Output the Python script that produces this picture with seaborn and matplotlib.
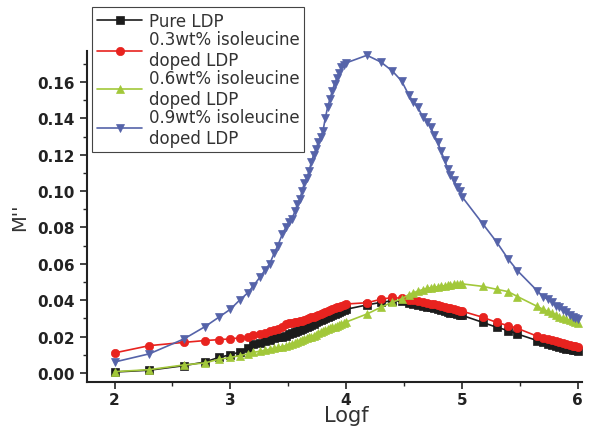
import matplotlib
matplotlib.use('Agg')
import matplotlib.pyplot as plt
import seaborn as sns
import pandas as pd
from matplotlib.ticker import MultipleLocator

# log frequency grid (shared by all samples)
logf = [2.00, 2.30, 2.60, 2.78, 2.90, 3.00, 3.08, 3.15, 3.20, 3.26,
        3.30, 3.34, 3.38, 3.41, 3.45, 3.48, 3.51, 3.53, 3.56, 3.58,
        3.60, 3.62, 3.64, 3.66, 3.68, 3.70, 3.72, 3.74, 3.76, 3.78,
        3.80, 3.82, 3.84, 3.86, 3.88, 3.90, 3.92, 3.94, 3.96, 3.98,
        4.00, 4.18, 4.30, 4.40, 4.48, 4.54, 4.58, 4.62, 4.66, 4.70,
        4.73, 4.76, 4.79, 4.82, 4.85, 4.88, 4.90, 4.93, 4.96, 4.98,
        5.00, 5.18, 5.30, 5.40, 5.48, 5.65, 5.70, 5.74, 5.78, 5.81,
        5.84, 5.87, 5.90, 5.93, 5.96, 5.98, 6.00]

pure = [0.0005, 0.0015, 0.0040, 0.0060, 0.0085, 0.0100, 0.0115, 0.0135, 0.0160, 0.0165,
        0.0175, 0.0180, 0.0190, 0.0195, 0.0200, 0.0205, 0.0215, 0.0220, 0.0225, 0.0230,
        0.0235, 0.0240, 0.0245, 0.0250, 0.0260, 0.0265, 0.0270, 0.0280, 0.0285, 0.0290,
        0.0295, 0.0300, 0.0310, 0.0315, 0.0320, 0.0325, 0.0330, 0.0335, 0.0340, 0.0345,
        0.0350, 0.0374, 0.0388, 0.0397, 0.0394, 0.0386, 0.0380, 0.0376, 0.0370, 0.0365,
        0.0360, 0.0356, 0.0350, 0.0345, 0.0340, 0.0335, 0.0332, 0.0328, 0.0323, 0.0320,
        0.0317, 0.0278, 0.0251, 0.0233, 0.0214, 0.0178, 0.0168, 0.0160, 0.0153, 0.0148,
        0.0143, 0.0138, 0.0134, 0.0130, 0.0126, 0.0124, 0.0122]

iso03 = [0.0110, 0.0150, 0.0168, 0.0178, 0.0183, 0.0187, 0.0193, 0.0200, 0.0208, 0.0215,
         0.0220, 0.0228, 0.0235, 0.0240, 0.0255, 0.0270, 0.0272, 0.0275, 0.0278, 0.0280,
         0.0283, 0.0288, 0.0292, 0.0297, 0.0300, 0.0305, 0.0310, 0.0315, 0.0320, 0.0325,
         0.0330, 0.0335, 0.0340, 0.0345, 0.0350, 0.0355, 0.0360, 0.0365, 0.0370, 0.0375,
         0.0379, 0.0386, 0.0405, 0.0415, 0.0410, 0.0402, 0.0400, 0.0395, 0.0390, 0.0385,
         0.0380, 0.0377, 0.0372, 0.0368, 0.0363, 0.0358, 0.0355, 0.0350, 0.0346, 0.0343,
         0.0340, 0.0306, 0.0278, 0.0260, 0.0245, 0.0202, 0.0192, 0.0186, 0.0180, 0.0175,
         0.0170, 0.0165, 0.0160, 0.0155, 0.0150, 0.0148, 0.0145]

iso06 = [0.0007, 0.0018, 0.0044, 0.0055, 0.0075, 0.0085, 0.0095, 0.0105, 0.0113, 0.0120,
         0.0125, 0.0130, 0.0135, 0.0140, 0.0145, 0.0150, 0.0155, 0.0160, 0.0165, 0.0170,
         0.0175, 0.0180, 0.0185, 0.0190, 0.0195, 0.0200, 0.0205, 0.0210, 0.0220, 0.0225,
         0.0230, 0.0235, 0.0240, 0.0245, 0.0250, 0.0255, 0.0260, 0.0265, 0.0270, 0.0275,
         0.0280, 0.0324, 0.0361, 0.0390, 0.0407, 0.0430, 0.0440, 0.0450, 0.0458, 0.0465,
         0.0468, 0.0470, 0.0474, 0.0477, 0.0480, 0.0483, 0.0485, 0.0487, 0.0489, 0.0490,
         0.0490, 0.0476, 0.0460, 0.0447, 0.0420, 0.0366, 0.0350, 0.0340, 0.0330, 0.0320,
         0.0310, 0.0300, 0.0295, 0.0290, 0.0283, 0.0280, 0.0275]

iso09 = [0.0060, 0.0105, 0.0187, 0.0254, 0.0306, 0.0350, 0.0400, 0.0440, 0.0480, 0.0530,
         0.0566, 0.0600, 0.0660, 0.0700, 0.0765, 0.0800, 0.0830, 0.0846, 0.0890, 0.0930,
         0.0956, 0.1000, 0.1045, 0.1070, 0.1110, 0.1160, 0.1200, 0.1230, 0.1270, 0.1300,
         0.1330, 0.1400, 0.1460, 0.1505, 0.1550, 0.1590, 0.1620, 0.1650, 0.1680, 0.1695,
         0.1705, 0.1747, 0.1710, 0.1660, 0.1605, 0.1530, 0.1490, 0.1460, 0.1410, 0.1380,
         0.1350, 0.1310, 0.1270, 0.1220, 0.1170, 0.1120, 0.1090, 0.1060, 0.1020, 0.1000,
         0.0970, 0.0820, 0.0720, 0.0626, 0.0562, 0.0452, 0.0420, 0.0405, 0.0390, 0.0370,
         0.0360, 0.0345, 0.0333, 0.0320, 0.0310, 0.0302, 0.0297]

labels = ['Pure LDP', '0.3wt% isoleucine\ndoped LDP',
          '0.6wt% isoleucine\ndoped LDP', '0.9wt% isoleucine\ndoped LDP']
colors = ['#1c1c1c', '#e8231f', '#a2c83a', '#5563a9']
markers = ['s', 'o', '^', 'v']
series = [pure, iso03, iso06, iso09]

sns.set_style('ticks')
plt.rcParams['font.family'] = ['DejaVu Sans']

fig = plt.figure(figsize=(5.9, 4.27), dpi=100)
ax = fig.add_axes([0.147, 0.103, 0.84, 0.775])

for vals, lab, col, mk in zip(series, labels, colors, markers):
    df = pd.DataFrame({'Logf': logf, 'M': vals})
    sns.lineplot(data=df, x='Logf', y='M', ax=ax, color=col, marker=mk,
                 markersize=6, markeredgewidth=0.5, markeredgecolor=col,
                 linewidth=1.2, label=lab)

ax.set_xlim(1.76, 6.04)
ax.set_ylim(-0.005, 0.177)
ax.xaxis.set_major_locator(MultipleLocator(1))
ax.xaxis.set_minor_locator(MultipleLocator(0.5))
ax.yaxis.set_major_locator(MultipleLocator(0.02))
ax.yaxis.set_minor_locator(MultipleLocator(0.01))
ax.yaxis.set_major_formatter(matplotlib.ticker.FormatStrFormatter('%.2f'))
ax.tick_params(which='major', direction='out', length=5, width=1.2,
               labelsize=11, colors='#222222')
ax.tick_params(axis='x', which='major', pad=2)
ax.tick_params(which='minor', direction='out', length=3, width=1.0)
for t in ax.get_xticklabels() + ax.get_yticklabels():
    t.set_fontweight('bold')
for s in ['left', 'bottom']:
    ax.spines[s].set_linewidth(1.5)
    ax.spines[s].set_color('#222222')
ax.spines['top'].set_visible(False)
ax.spines['right'].set_visible(False)

ax.set_xlabel('Logf', fontsize=15, color='#333333')
ax.xaxis.set_label_coords((4 - 1.76) / (6.04 - 1.76), -0.07)
ax.set_ylabel("M''", fontsize=14, color='#333333', labelpad=6)

ax.get_legend().remove()
handles, labs = ax.get_legend_handles_labels()
leg = fig.legend(handles, labs, loc='upper left', bbox_to_anchor=(0.156, 0.981),
                 borderaxespad=0, fontsize=12, frameon=True, fancybox=False,
                 edgecolor='#444444', handlelength=2.7, handletextpad=0.4,
                 borderpad=0.3, labelspacing=0.0, framealpha=1)
leg.get_frame().set_linewidth(0.8)
for t in leg.get_texts():
    t.set_color('#333333')

fig.savefig('out.png', dpi=100)
